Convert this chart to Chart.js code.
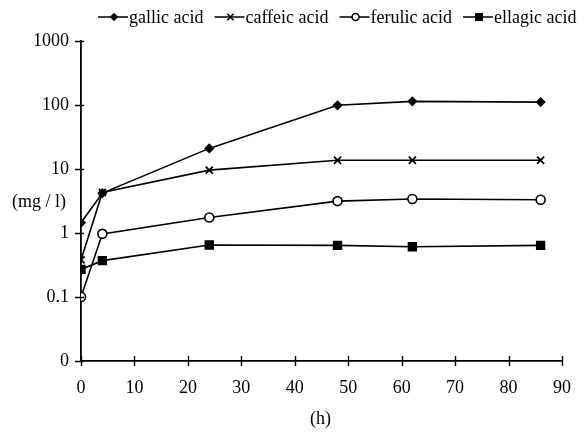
<!DOCTYPE html>
<html>
<head>
<meta charset="utf-8">
<script src="https://cdn.jsdelivr.net/npm/chart.js@4"></script>
<style>
  html, body { margin: 0; padding: 0; background: #fff; }
  #wrap { width: 584px; height: 438px; }
</style>
</head>
<body>
<div id="wrap"><canvas id="phenolChart" width="584" height="438"></canvas></div>
<script>
// sampling times (h)
const hours = [0, 4, 24, 48, 62, 86];

// concentrations (mg / l)
const gallic   = [1.45, 4.2, 21, 99, 114, 111];
const caffeic  = [0.38, 4.3, 9.6, 13.7, 13.7, 13.7];
const ferulic  = [0.1, 0.97, 1.75, 3.15, 3.4, 3.3];
const ellagic  = [0.27, 0.37, 0.65, 0.64, 0.61, 0.64];

const seriesNames = ["gallic acid", "caffeic acid", "ferulic acid", "ellagic acid"];

// log axis ticks; the lowest one is printed as "0"
const yTicks = [0.01, 0.1, 1, 10, 100, 1000];
const xTicks = [0, 10, 20, 30, 40, 50, 60, 70, 80, 90];

const FONT = "'Liberation Serif', 'Times New Roman', serif";

function toPoints(values) {
    return hours.map((h, i) => ({ x: h, y: values[i] }));
}

const markerStyles = [
    { pointStyle: "rectRot", pointRadius: 4, pointBackgroundColor: "#000", legendRadius: 3.2 },
    { pointStyle: "crossRot", pointRadius: 5, pointBackgroundColor: "#000", pointBorderWidth: 1.8, legendRadius: 4.5 },
    { pointStyle: "circle", pointRadius: 4.5, pointBackgroundColor: "#fff", pointBorderWidth: 1.6, legendRadius: 3.5 },
    { pointStyle: "rect", pointRadius: 5.5, pointBackgroundColor: "#000", legendRadius: 4.5 }
];

const datasets = [gallic, caffeic, ferulic, ellagic].map((vals, i) => Object.assign({
    label: seriesNames[i],
    data: toPoints(vals),
    borderColor: "#000",
    borderWidth: 1.6,
    pointBorderColor: "#000",
    tension: 0
}, markerStyles[i]));

// legend across the top: short line, marker, then name
const topLegend = {
    id: "topLegend",
    afterDraw(chart) {
        const ctx = chart.ctx;
        ctx.save();
        ctx.font = "18px " + FONT;
        ctx.textBaseline = "middle";
        let x = 98;
        const y = 17;
        chart.data.datasets.forEach(ds => {
            ctx.strokeStyle = "#000";
            ctx.lineWidth = 1.5;
            ctx.beginPath();
            ctx.moveTo(x, y);
            ctx.lineTo(x + 30, y);
            ctx.stroke();
            ctx.fillStyle = ds.pointBackgroundColor;
            Chart.helpers.drawPoint(ctx, {
                pointStyle: ds.pointStyle,
                radius: ds.legendRadius,
                borderWidth: ds.pointBorderWidth || 1
            }, x + 16, y);
            ctx.fillStyle = "#000";
            ctx.fillText(ds.label, x + 31, y + 1);
            x += 31 + ctx.measureText(ds.label).width + 11;
        });
        ctx.restore();
    }
};

// tick marks that cross the axis lines, plus the axis captions
const axisDecor = {
    id: "axisDecor",
    afterDraw(chart) {
        const ctx = chart.ctx;
        const xs = chart.scales.x;
        const ys = chart.scales.y;
        const axisY = ys.bottom;
        const axisX = xs.left;
        ctx.save();
        ctx.strokeStyle = "#000";
        ctx.lineWidth = 1.4;
        ctx.beginPath();
        xTicks.forEach(v => {
            const px = Math.round(xs.getPixelForValue(v)) + 0.5;
            ctx.moveTo(px, axisY - 5);
            ctx.lineTo(px, axisY + 5);
        });
        yTicks.forEach(v => {
            const py = Math.round(ys.getPixelForValue(v)) + 0.5;
            ctx.moveTo(axisX - 6, py);
            ctx.lineTo(axisX + 3, py);
        });
        ctx.stroke();

        ctx.font = "18px " + FONT;
        ctx.fillStyle = "#000";
        ctx.textBaseline = "middle";
        ctx.textAlign = "left";
        ctx.fillText("(mg / l)", 12, 202);
        ctx.textAlign = "center";
        ctx.fillText("(h)", (xs.left + xs.right) / 2 - 1, 419);
        ctx.restore();
    }
};

new Chart(document.getElementById("phenolChart"), {
    type: "line",
    data: { datasets: datasets },
    options: {
        responsive: false,
        animation: false,
        layout: { padding: { left: 0, top: 41, right: 22, bottom: 0 } },
        plugins: {
            legend: { display: false },
            tooltip: { enabled: false }
        },
        scales: {
            x: {
                type: "linear",
                min: 0,
                max: 90,
                afterBuildTicks: s => { s.ticks = xTicks.map(v => ({ value: v })); },
                afterFit: s => { s.height = 77; s.paddingLeft = 0; s.paddingRight = 0; },
                border: { color: "#000", width: 1.8 },
                grid: { drawOnChartArea: false, drawTicks: false },
                ticks: { color: "#000", font: { family: FONT, size: 18 }, padding: 16, maxRotation: 0 }
            },
            y: {
                type: "logarithmic",
                min: 0.01,
                max: 1000,
                afterBuildTicks: s => { s.ticks = yTicks.map(v => ({ value: v })); },
                afterFit: s => { s.width = 81; s.paddingTop = 0; s.paddingBottom = 0; },
                border: { color: "#000", width: 1.8 },
                grid: { drawOnChartArea: false, drawTicks: false },
                ticks: {
                    color: "#000",
                    font: { family: FONT, size: 18 },
                    padding: 12,
                    callback: v => (v === 0.01 ? "0" : String(v))
                }
            }
        }
    },
    plugins: [topLegend, axisDecor]
});
</script>
</body>
</html>
